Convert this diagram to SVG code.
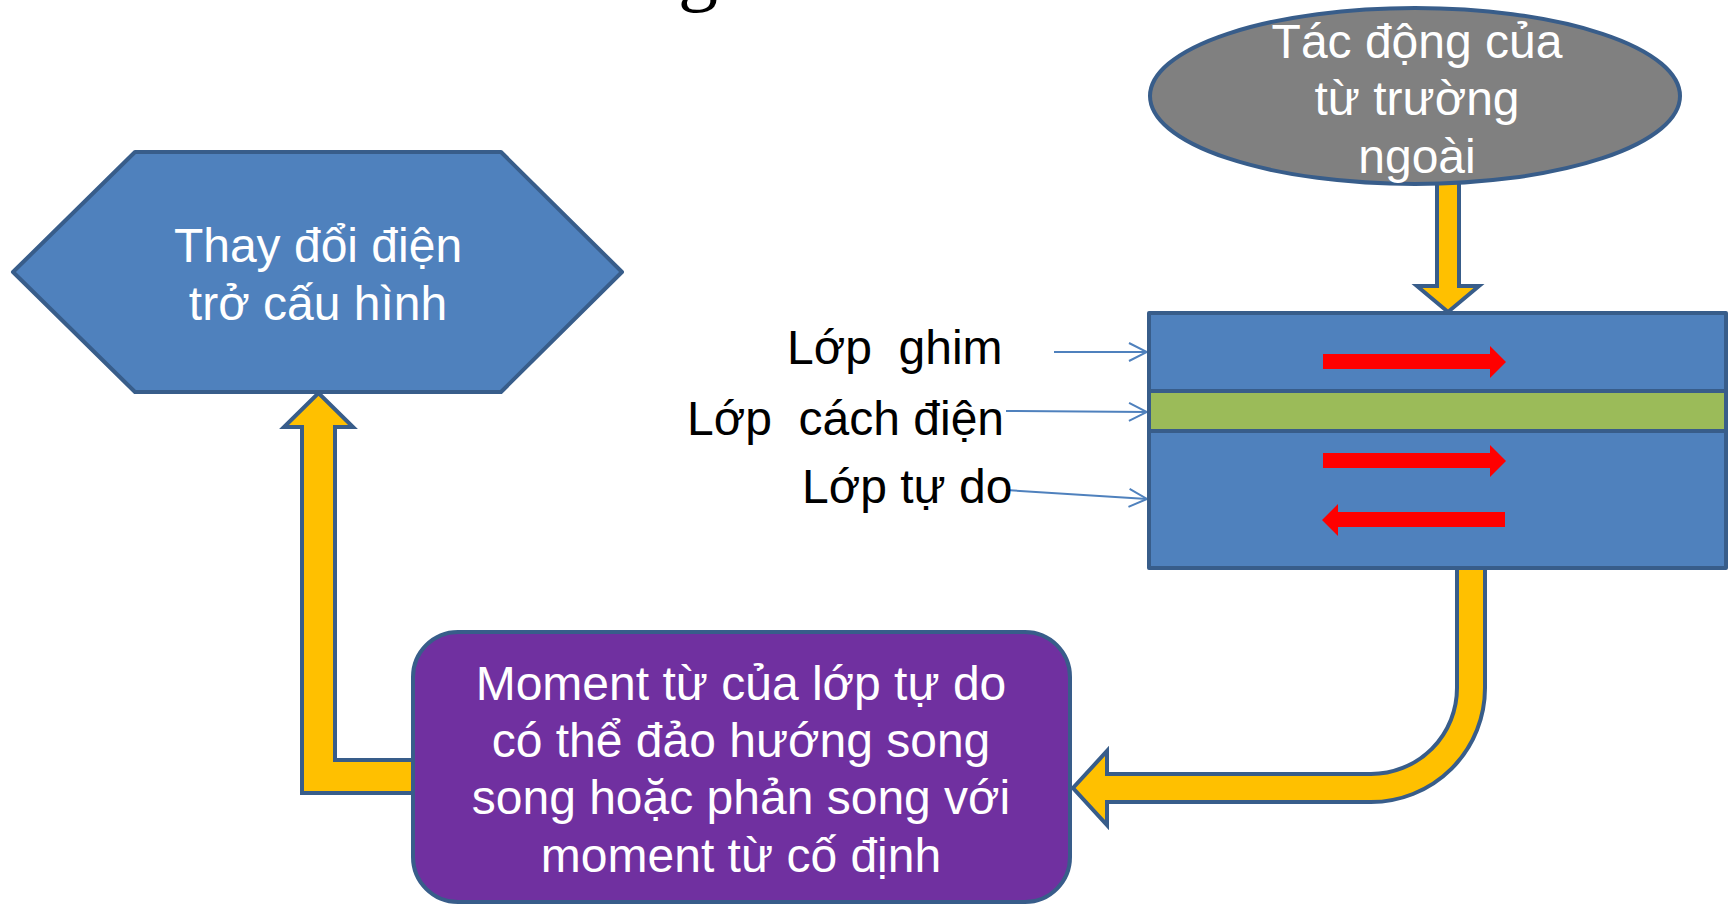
<svg xmlns="http://www.w3.org/2000/svg" width="1733" height="905" viewBox="0 0 1733 905">
<style>
.t{font-family:"Liberation Sans",Arial,sans-serif;}
.serif{font-family:"Liberation Serif","Times New Roman",serif;}
.w{fill:#FFFFFF;text-anchor:middle;}
.lbl{fill:#000000;white-space:pre;}
.node{stroke:#385D8A;stroke-width:4;stroke-linejoin:round;}
.yel{fill:#FFC000;stroke:#385D8A;stroke-width:4;stroke-linejoin:miter;}
.red{fill:#FF0000;}
.thin{fill:none;stroke:#4F81BD;stroke-width:2;}
</style>
<defs>
<marker id="open" viewBox="0 0 20 20" refX="19" refY="10" markerWidth="20" markerHeight="20" markerUnits="userSpaceOnUse" orient="auto">
<path d="M1,1 L19,10 L1,19" fill="none" stroke="#4F81BD" stroke-width="2"/>
</marker>
</defs>
<text class="serif" x="678" y="-4" font-size="80" fill="#000">g</text>
<g id="connectors">
<path class="yel" d="M1437,170 L1459,170 L1459,286 L1479,286 L1448,312 L1417,286 L1437,286 Z"/>
<path class="yel" d="M420,760 L335,760 L335,427 L353,427 L318.5,393 L284,427 L302,427 L302,793 L420,793 Z"/>
<path class="yel" d="M1457,560 L1485,560 L1485,688 A114,114 0 0 1 1371,802 L1107,802 L1107,825 L1073,788 L1107,751 L1107,774 L1371,774 A86,86 0 0 0 1457,688 Z"/>
<line class="thin" x1="1054" y1="352" x2="1147" y2="352" marker-end="url(#open)"/>
<line class="thin" x1="1006" y1="411" x2="1147" y2="412" marker-end="url(#open)"/>
<line class="thin" x1="1006" y1="490" x2="1147" y2="499" marker-end="url(#open)"/>
</g>
<g id="ellipse">
<ellipse class="node" cx="1415" cy="96" rx="265" ry="88" fill="#808080"/>
<text class="t w" x="1417" y="58" font-size="48">Tác động của</text>
<text class="t w" x="1417" y="115" font-size="48">từ trường</text>
<text class="t w" x="1417" y="173" font-size="48">ngoài</text>
</g>
<g id="hexagon">
<polygon class="node" points="13,272 135,152 501,152 622,272 501,392 135,392" fill="#4F81BD"/>
<text class="t w" x="318" y="262" font-size="48">Thay đổi điện</text>
<text class="t w" x="318" y="320" font-size="48">trở cấu hình</text>
</g>
<g id="layers">
<rect class="node" x="1149" y="313" width="577" height="255" fill="#4F81BD"/>
<rect x="1151" y="393" width="573" height="36" fill="#9BBB59"/>
<line x1="1149" y1="391" x2="1726" y2="391" stroke="#385D8A" stroke-width="4"/>
<line x1="1149" y1="431" x2="1726" y2="431" stroke="#385D8A" stroke-width="4"/>
<polygon class="red" points="1323,354 1490,354 1490,346 1506,362 1490,378 1490,369 1323,369"/>
<polygon class="red" points="1323,453 1490,453 1490,445 1506,461 1490,477 1490,468 1323,468"/>
<polygon class="red" points="1505,512 1338,512 1338,504 1322,520 1338,536 1338,527 1505,527"/>
</g>
<g id="labels">
<text class="t lbl" x="787" y="364" font-size="48" xml:space="preserve">Lớp  ghim</text>
<text class="t lbl" x="687" y="435" font-size="48" xml:space="preserve">Lớp  cách điện</text>
<text class="t lbl" x="802" y="503" font-size="48">Lớp tự do</text>
</g>
<g id="moment">
<rect class="node" x="413" y="632" width="657" height="270" rx="45" ry="45" fill="#7030A0"/>
<text class="t w" x="741" y="700" font-size="48">Moment từ của lớp tự do</text>
<text class="t w" x="741" y="757" font-size="48">có thể đảo hướng song</text>
<text class="t w" x="741" y="814" font-size="48">song hoặc phản song với</text>
<text class="t w" x="741" y="872" font-size="48">moment từ cố định</text>
</g>
</svg>
